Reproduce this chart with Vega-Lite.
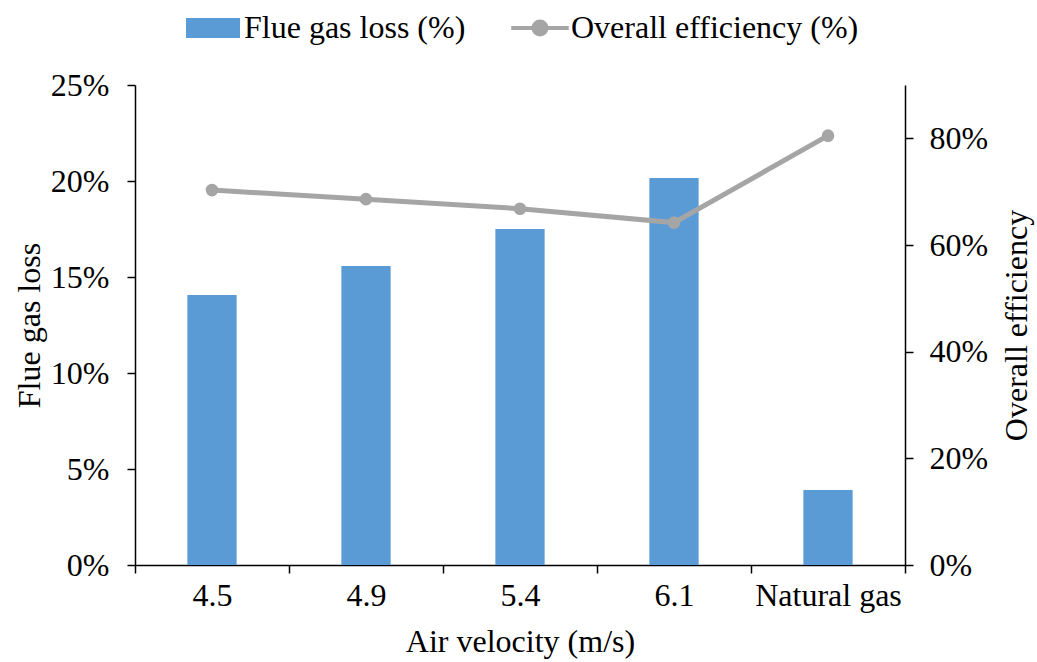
{
  "$schema": "https://vega.github.io/schema/vega-lite/v6.json",
  "autosize": "none",
  "width": 770,
  "height": 480,
  "padding": {"left": 135, "top": 85, "right": 132, "bottom": 97},
  "background": "white",
  "config": {
    "view": {"stroke": null},
    "font": "'Liberation Serif', 'Times New Roman', serif",
    "axis": {
      "labelFont": "'Liberation Serif', 'Times New Roman', serif",
      "titleFont": "'Liberation Serif', 'Times New Roman', serif",
      "labelFontSize": 32,
      "titleFontSize": 32,
      "titleFontWeight": "normal",
      "labelColor": "black",
      "titleColor": "black",
      "domainColor": "black",
      "tickColor": "black",
      "domainWidth": 1.5,
      "tickWidth": 1.5,
      "tickSize": 8,
      "grid": false
    }
  },
  "data": {
    "values": [
      {"cat": "4.5", "loss": 0.1406, "eff": 0.703},
      {"cat": "4.9", "loss": 0.1557, "eff": 0.686},
      {"cat": "5.4", "loss": 0.175, "eff": 0.668},
      {"cat": "6.1", "loss": 0.2016, "eff": 0.642},
      {"cat": "Natural gas", "loss": 0.039, "eff": 0.805}
    ]
  },
  "encoding": {
    "x": {
      "field": "cat",
      "type": "nominal",
      "sort": null,
      "scale": {"paddingInner": 0, "paddingOuter": 0},
      "axis": {
        "title": "Air velocity (m/s)",
        "labelAngle": 0,
        "tickBand": "extent",
        "labelPadding": 7,
        "titlePadding": 15
      }
    }
  },
  "layer": [
    {
      "mark": {"type": "bar", "width": {"band": 0.32}},
      "encoding": {
        "y": {
          "field": "loss",
          "type": "quantitative",
          "scale": {"domain": [0, 0.25], "nice": false},
          "axis": {
            "title": "Flue gas loss",
            "format": ".0%",
            "values": [0, 0.05, 0.1, 0.15, 0.2, 0.25],
            "labelPadding": 18,
            "titlePadding": 4
          }
        },
        "color": {
          "datum": "Flue gas loss (%)",
          "scale": {"domain": ["Flue gas loss (%)", "Overall efficiency (%)"], "range": ["#5b9bd5", "#a5a5a5"]},
          "legend": {
            "orient": "none",
            "legendX": 51,
            "legendY": -84,
            "direction": "horizontal",
            "title": null,
            "labelFont": "'Liberation Serif', 'Times New Roman', serif",
            "labelFontSize": 32,
            "labelColor": "black",
            "labelLimit": 0,
            "labelOffset": 4,
            "columnPadding": 37,
            "symbolSize": 2500,
            "encode": {
              "symbols": {
                "update": {
                  "shape": {"signal": "datum.value === 'Flue gas loss (%)' ? 'M-1,-0.32H1V0.32H-1Z' : 'M-1.15,0H-0.26A0.26,0.26,0,1,1,0.26,0H1.15M0.26,0A0.26,0.26,0,1,1,-0.26,0'"},
                  "fill": {"signal": "datum.value === 'Flue gas loss (%)' ? '#5b9bd5' : '#a5a5a5'"},
                  "stroke": {"signal": "datum.value === 'Flue gas loss (%)' ? 'transparent' : '#a5a5a5'"},
                  "strokeWidth": {"value": 4},
                  "opacity": {"value": 1},
                  "fillOpacity": {"value": 1}
                }
              }
            }
          }
        }
      }
    },
    {
      "layer": [
        {
          "mark": {"type": "line", "strokeWidth": 5},
          "encoding": {
            "y": {
              "field": "eff",
              "type": "quantitative",
              "scale": {"domain": [0, 0.9], "nice": false},
              "axis": {
                "orient": "right",
                "title": "Overall efficiency",
                "titleAngle": 270,
                "format": ".0%",
                "values": [0, 0.2, 0.4, 0.6, 0.8],
                "labelPadding": 16,
                "titlePadding": 46
              }
            },
            "color": {"datum": "Overall efficiency (%)"}
          }
        },
        {
          "mark": {"type": "point", "filled": true, "size": 160, "opacity": 1},
          "encoding": {
            "y": {"field": "eff", "type": "quantitative", "scale": {"domain": [0, 0.9], "nice": false}},
            "color": {"datum": "Overall efficiency (%)"}
          }
        }
      ]
    }
  ],
  "resolve": {"scale": {"y": "independent"}}
}
